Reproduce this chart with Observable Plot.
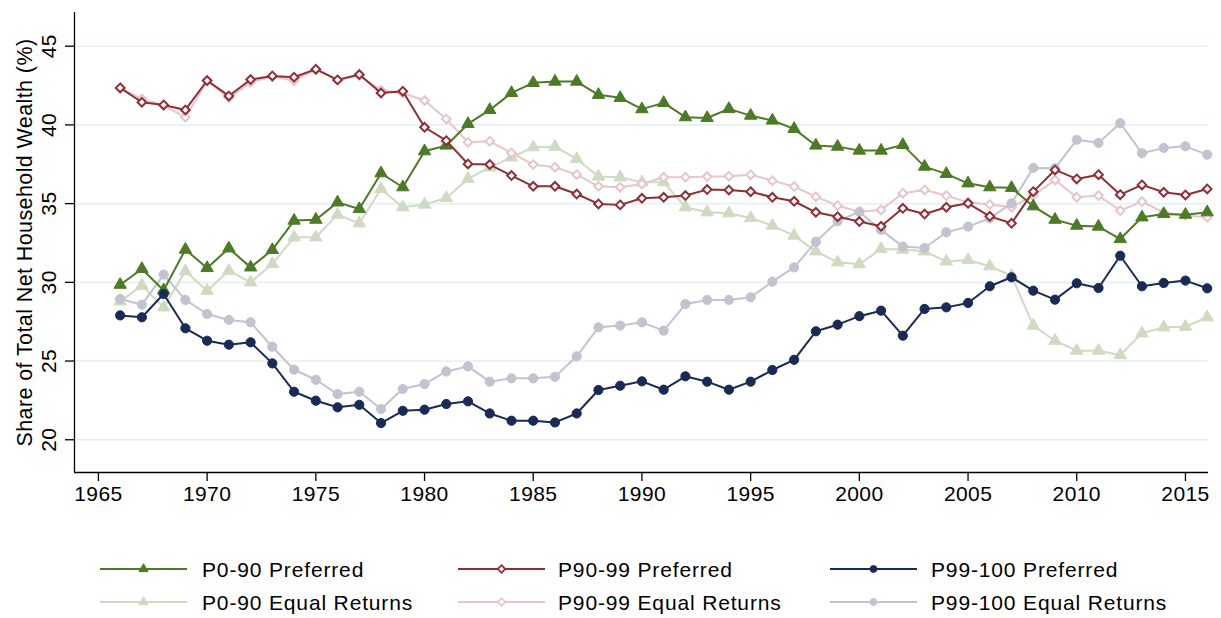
<!DOCTYPE html>
<html>
<head>
<meta charset="utf-8">
<script src="https://cdn.jsdelivr.net/npm/d3@7"></script>
<script src="https://cdn.jsdelivr.net/npm/@observablehq/plot@0.6"></script>
<style>
  html, body { margin: 0; padding: 0; background: #fff; }
  body { width: 1221px; height: 618px; position: relative; overflow: hidden; font-family: "Liberation Sans", Arial, Helvetica, sans-serif; }
  #chart { position: absolute; left: 0; top: 0; }
  #legend { position: absolute; left: 0; top: 520px; }
</style>
</head>
<body>
<div id="chart"></div>
<div id="legend"></div>
<script>
const years = [1966,1967,1968,1969,1970,1971,1972,1973,1974,1975,1976,1977,1978,1979,1980,1981,1982,
  1983,1984,1985,1986,1987,1988,1989,1990,1991,1992,1993,1994,1995,1996,1997,1998,1999,2000,
  2001,2002,2003,2004,2005,2006,2007,2008,2009,2010,2011,2012,2013,2014,2015,2016];

const p090Preferred = [29.85,30.85,29.5,32.08,30.91,32.16,30.95,32.06,33.92,33.98,35.08,34.66,36.93,36.04,38.33,38.69,40.06,
  40.95,42.03,42.67,42.75,42.75,41.91,41.72,41.0,41.4,40.49,40.44,41.02,40.59,40.28,39.75,38.69,38.62,38.37,
  38.37,38.73,37.35,36.89,36.29,36.04,36.0,34.83,33.98,33.6,33.54,32.75,34.13,34.34,34.3,34.45];
const p090Equal = [28.79,29.79,28.41,30.7,29.47,30.74,30.0,31.17,32.86,32.86,34.3,33.75,35.93,34.77,34.94,35.36,36.57,
  37.3,37.94,38.58,38.62,37.84,36.72,36.67,36.36,36.36,34.77,34.45,34.39,34.09,33.6,32.97,31.97,31.27,31.15,
  32.12,32.08,31.97,31.33,31.42,31.02,30.42,27.25,26.29,25.66,25.66,25.38,26.76,27.14,27.18,27.78];
const p9099Preferred = [42.35,41.44,41.27,40.95,42.82,41.84,42.88,43.11,43.03,43.54,42.86,43.2,42.03,42.14,39.85,39.0,37.52,
  37.48,36.78,36.1,36.1,35.61,34.98,34.92,35.34,35.4,35.51,35.89,35.87,35.76,35.4,35.15,34.45,34.17,33.86,
  33.56,34.7,34.34,34.77,35.02,34.19,33.75,35.76,37.14,36.57,36.84,35.57,36.19,35.72,35.55,35.93];
const p9099Equal = [42.35,41.65,41.23,40.49,42.78,41.72,42.71,43.07,42.82,43.5,42.86,43.14,42.2,42.03,41.55,40.38,38.9,
  38.96,38.22,37.48,37.31,36.84,36.1,36.04,36.25,36.67,36.67,36.72,36.74,36.84,36.46,36.08,35.44,34.87,34.49,
  34.6,35.66,35.87,35.51,35.08,34.94,34.77,35.51,36.5,35.4,35.51,34.56,35.13,34.45,34.24,34.13];
const p99100Preferred = [27.9,27.78,29.26,27.08,26.29,26.04,26.19,24.85,23.05,22.48,22.06,22.22,21.06,21.84,21.91,22.27,22.44,
  21.67,21.21,21.21,21.1,21.67,23.16,23.43,23.71,23.18,24.03,23.69,23.18,23.69,24.43,25.08,26.89,27.31,27.85,
  28.2,26.61,28.31,28.41,28.69,29.75,30.32,29.47,28.9,29.94,29.64,31.69,29.75,29.96,30.11,29.62];
const p99100Equal = [28.94,28.58,30.49,28.88,27.99,27.61,27.46,25.91,24.45,23.81,22.9,23.05,21.95,23.22,23.54,24.34,24.66,
  23.69,23.9,23.9,24.0,25.3,27.14,27.25,27.46,26.93,28.62,28.88,28.88,29.05,30.04,30.95,32.58,33.88,34.48,
  33.33,32.27,32.18,33.18,33.54,34.07,35.02,37.27,37.25,39.05,38.86,40.11,38.2,38.54,38.64,38.11];

const xTicks = [1965,1970,1975,1980,1985,1990,1995,2000,2005,2010,2015];
const yTicks = [20,25,30,35,40,45];
const xDomain = [1963.9, 2016.06];
const yDomain = [17.92, 47.14];

const seriesNames = ["P0-90 Preferred","P90-99 Preferred","P99-100 Preferred",
                     "P0-90 Equal Returns","P90-99 Equal Returns","P99-100 Equal Returns"];

// drawing order: light (equal returns) first, preferred on top
const equalSeries = [
  {name: seriesNames[3], values: p090Equal,      color: "#cfdac3", symbol: "triangle", fill: "#cfdac3", r: 4.6},
  {name: seriesNames[4], values: p9099Equal,     color: "#e6c6c8", symbol: "diamond2", fill: "#ffffff", r: 3.9},
  {name: seriesNames[5], values: p99100Equal,    color: "#c1c4cf", symbol: "circle",   fill: "#c1c4cf", r: 4.6}
];
const preferredSeries = [
  {name: seriesNames[0], values: p090Preferred,  color: "#4d7a26", symbol: "triangle", fill: "#4d7a26", r: 4.6},
  {name: seriesNames[1], values: p9099Preferred, color: "#902e35", symbol: "diamond2", fill: "#ffffff", r: 3.9},
  {name: seriesNames[2], values: p99100Preferred,color: "#1b2a55", symbol: "circle",   fill: "#1b2a55", r: 4.6}
];
const series = [...equalSeries, ...preferredSeries];

const font = "'Liberation Sans', Arial, Helvetica, sans-serif";

const marks = [
  Plot.gridY(yTicks, {stroke: "#e6eff1", strokeOpacity: 1, strokeWidth: 1.6}),
  Plot.ruleX([xDomain[0]], {stroke: "#000", strokeWidth: 1.3}),
  Plot.ruleY([yDomain[0]], {stroke: "#000", strokeWidth: 1.3}),
  Plot.axisX(xTicks, {tickSize: 9, tickPadding: 5, tickFormat: d => String(d), fontSize: 21, label: null, stroke: "#000", strokeWidth: 1.3}),
  Plot.axisY(yTicks, {tickSize: 9, tickFormat: () => "", label: null, stroke: "#000", strokeWidth: 1.3}),
  Plot.text(yTicks, {y: d => d, text: d => String(d), frameAnchor: "left", rotate: -90, dx: -19,
    textAnchor: "middle", lineAnchor: "bottom", fontSize: 21, fill: "#000"}),
  Plot.text(["Share of Total Net Household Wealth (%)"], {frameAnchor: "left", rotate: -90, dx: -43,
    textAnchor: "middle", lineAnchor: "bottom", fontSize: 21.5, fill: "#000"})
];

for (const s of series) {
  const rows = years.map((yr, i) => ({year: yr, value: s.values[i]}));
  marks.push(Plot.line(rows, {x: "year", y: "value", stroke: s.color, strokeWidth: 2}));
  marks.push(Plot.dot(rows, {x: "year", y: "value", symbol: s.symbol, r: s.r, fill: s.fill, stroke: s.color, strokeWidth: s.symbol === "diamond2" ? 2 : 1}));
}

const chart = Plot.plot({
  width: 1221,
  height: 520,
  marginLeft: 74,
  marginRight: 13,
  marginTop: 12,
  marginBottom: 48,
  style: {fontFamily: font, background: "#fff", overflow: "visible"},
  x: {domain: xDomain, axis: null},
  y: {domain: yDomain, axis: null},
  marks
});
chart.querySelectorAll("text").forEach(t => t.setAttribute("letter-spacing", "0.4"));
document.getElementById("chart").appendChild(chart);

// Legend: row 1 = Preferred, row 2 = Equal Returns
const legendCols = [{x1: 100, x2: 187, tx: 202}, {x1: 458, x2: 545, tx: 558}, {x1: 830, x2: 917, tx: 931}];
const legendRowY = [49, 82];
const legendRows = [preferredSeries, equalSeries];
const lsvg = d3.select("#legend").append("svg").attr("width", 1221).attr("height", 98)
  .style("font-family", font);
legendRows.forEach((row, ri) => {
  const y = legendRowY[ri];
  row.forEach((s, ci) => {
    const c = legendCols[ci];
    const g = lsvg.append("g");
    g.append("line").attr("x1", c.x1).attr("x2", c.x2).attr("y1", y).attr("y2", y)
      .attr("stroke", s.color).attr("stroke-width", 2);
    const sym = {triangle: d3.symbolTriangle, diamond2: d3.symbolDiamond2, circle: d3.symbolCircle}[s.symbol];
    g.append("path").attr("d", d3.symbol(sym, Math.PI * 3.4 * 3.4)())
      .attr("transform", `translate(${(c.x1 + c.x2) / 2},${y})`)
      .attr("fill", s.fill).attr("stroke", s.color).attr("stroke-width", s.symbol === "diamond2" ? 1.8 : 1);
    g.append("text").attr("x", c.tx).attr("y", y).attr("dy", "0.36em")
      .attr("font-size", 21).attr("letter-spacing", 0.85).attr("fill", "#000").text(s.name);
  });
});
</script>
</body>
</html>
